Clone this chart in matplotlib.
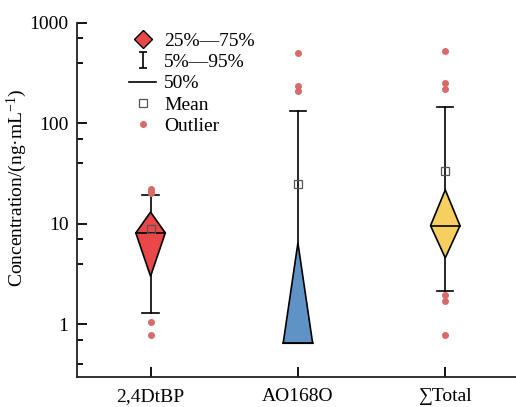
import matplotlib
matplotlib.use("Agg")
import matplotlib.pyplot as plt
from matplotlib.patches import Polygon
from matplotlib.lines import Line2D
from matplotlib.path import Path
from matplotlib.ticker import FixedLocator, NullFormatter

plt.rcParams['font.family'] = ['Liberation Serif', 'DejaVu Serif']
plt.rcParams['mathtext.fontset'] = 'custom'
plt.rcParams['mathtext.rm'] = 'Liberation Serif'
plt.rcParams['mathtext.it'] = 'Liberation Serif:italic'

categories = ['2,4DtBP', 'AO168O', '∑Total']
p5 = [1.29, 0.65, 2.13]
q25 = [3.01, 0.65, 4.59]
median = [8.13, 0.65, 9.6]
q75 = [13.1, 6.46, 21.8]
p95 = [19.2, 133, 144]
means = [8.9, 25.0, 33.7]
outliers = [[22.3, 21.3, 20.5, 1.06, 0.78],
            [503, 237, 208],
            [523, 253, 221, 1.94, 1.70, 0.78]]
colors = ['#E84848', '#5F93C6', '#F5D061']
outlier_color = '#D96A6A'

fig = plt.figure(figsize=(5.16, 4.07), dpi=100)
ax = fig.add_axes([0.149, 0.0737, 0.851, 0.8703])
ax.set_yscale('log')
ax.set_ylim(0.3, 1000)
ax.set_xlim(0.5, 3.48)

w = 0.1
cap = 0.055
for i, cat in enumerate(categories):
    x = i + 1
    ax.plot([x, x], [q75[i], p95[i]], color='black', lw=1.2, zorder=2)
    ax.plot([x - cap, x + cap], [p95[i], p95[i]], color='black', lw=1.2, zorder=2)
    if p5[i] < q25[i]:
        ax.plot([x, x], [p5[i], q25[i]], color='black', lw=1.2, zorder=2)
        ax.plot([x - cap, x + cap], [p5[i], p5[i]], color='black', lw=1.2, zorder=2)
    poly = Polygon([(x, q25[i]), (x + w, median[i]), (x, q75[i]), (x - w, median[i])],
                   closed=True, facecolor=colors[i], edgecolor='black', lw=1.2, zorder=3)
    ax.add_patch(poly)
    ax.plot([x - w, x + w], [median[i], median[i]], color='black', lw=1.2, zorder=4)
    ax.plot([x], [means[i]], marker='s', ms=6, mfc='none', mec='#555555', mew=0.9,
            linestyle='none', zorder=5)
    ax.plot([x] * len(outliers[i]), outliers[i], marker='o', ms=4, color=outlier_color,
            linestyle='none', zorder=5)

ax.set_xticks([1, 2, 3])
ax.set_xticklabels(categories, fontsize=14)
ax.set_yticks([1, 10, 100, 1000])
ax.set_yticklabels(['1', '10', '100', '1000'], fontsize=14)
minor = [m * 10.0 ** k for k in range(-1, 3) for m in (4, 7)]
minor = [v for v in minor if 0.3 <= v <= 1000]
ax.yaxis.set_minor_locator(FixedLocator(minor))
ax.yaxis.set_minor_formatter(NullFormatter())
ax.tick_params(axis='both', which='major', direction='in', length=7, width=1.3, pad=6)
ax.tick_params(axis='y', which='minor', direction='in', length=4, width=1.3)
ax.tick_params(axis='x', which='major', pad=8)
for s in ['top', 'right']:
    ax.spines[s].set_visible(False)
for s in ['left', 'bottom']:
    ax.spines[s].set_linewidth(1.3)
    ax.spines[s].set_color('#222222')

ax.set_ylabel('Concentration/(ng·mL$^{-1}$)', fontsize=14)
ax.yaxis.set_label_coords(-0.11, 0.533)

ibeam = Path([(-0.5, -1), (0.5, -1), (0, -1), (0, 1), (-0.5, 1), (0.5, 1)],
             [Path.MOVETO, Path.LINETO, Path.MOVETO, Path.LINETO, Path.MOVETO, Path.LINETO])
handles = [
    Line2D([], [], marker='D', ms=9, mfc=colors[0], mec='black', mew=1.0, linestyle='none'),
    Line2D([], [], marker=ibeam, ms=12, mfc='none', mec='black', mew=1.2, linestyle='none'),
    Line2D([], [], color='black', lw=1.2),
    Line2D([], [], marker='s', ms=6, mfc='none', mec='#555555', mew=0.9, linestyle='none'),
    Line2D([], [], marker='o', ms=4, color=outlier_color, linestyle='none'),
]
labels = ['25%—75%', '5%—95%', '50%', 'Mean', 'Outlier']
fig.legend(handles, labels, loc='upper left', bbox_to_anchor=(0.235, 0.94), frameon=False,
           fontsize=14, handlelength=1.4, handletextpad=0.4, labelspacing=0.19,
           borderaxespad=0)

fig.savefig('out.png', dpi=100)
